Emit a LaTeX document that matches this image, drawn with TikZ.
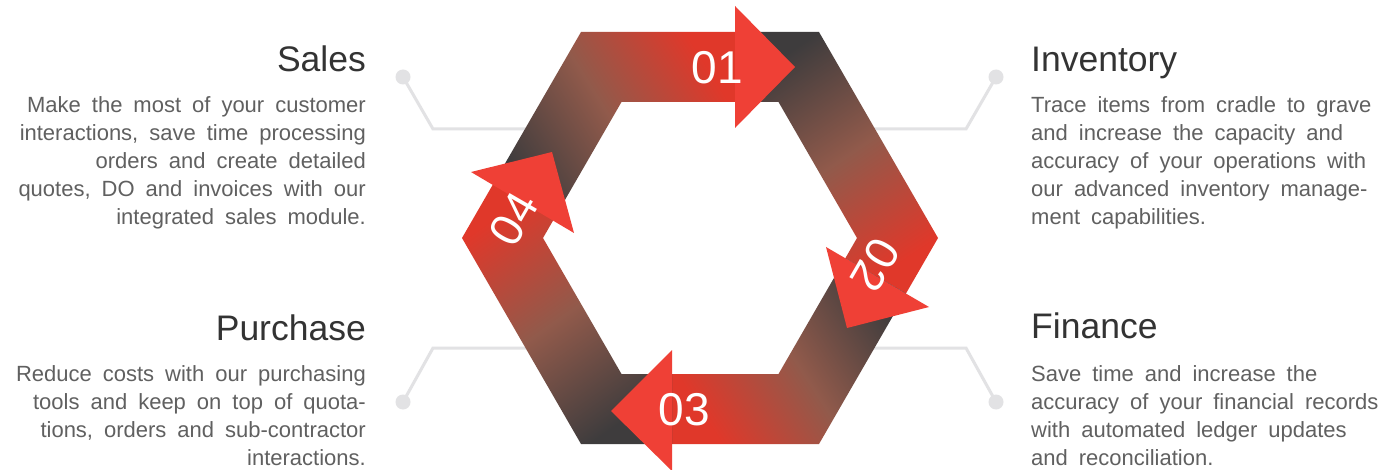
\documentclass[tikz,border=0pt]{standalone}
\usepackage{fontspec}
\setmainfont{Liberation Sans}
\newfontfamily\headfont{Liberation Sans}
\newfontfamily\blurbfont[WordSpace=1.8]{Liberation Sans}
\definecolor{ringdark}{RGB}{62,60,61}
\definecolor{ringmid}{RGB}{145,90,75}
\definecolor{ringred}{RGB}{224,56,42}
\definecolor{arrowred}{RGB}{239,64,54}
\definecolor{leadgray}{RGB}{226,226,228}
\definecolor{headgray}{RGB}{51,51,51}
\definecolor{blurbgray}{RGB}{96,96,96}
\tikzset{head/.style={inner sep=0pt,text=headgray,font=\headfont\fontsize{35.5}{40}\selectfont},
  blurb/.style={inner sep=0pt,text=blurbgray,font=\blurbfont\fontsize{22}{28}\selectfont},
  lead/.style={draw=leadgray,line width=3pt},
  dot/.style={circle,fill=leadgray,inner sep=0pt,minimum size=15pt},
  num/.style={inner sep=0pt,text=white,font=\fontsize{46}{50}\selectfont},
  band/.style={top color=ringred,bottom color=ringdark,middle color=ringmid}}
\begin{document}
\begin{tikzpicture}[x=1pt, y=-1pt]
\path[use as bounding box, fill=white] (0,0) rectangle (1399,470);
\node[dot] (salesdot) at (403,77) {};
\node[dot] (invdot) at (996,77) {};
\node[dot] (purchdot) at (403,402) {};
\node[dot] (findot) at (996,402) {};
\coordinate (salesbend) at (433,129);
\coordinate (invbend) at (966,129);
\coordinate (purchbend) at (433,348);
\coordinate (finbend) at (966,348);
\coordinate (salesend) at (570,129);
\coordinate (invend) at (830,129);
\coordinate (purchend) at (570,348);
\coordinate (finend) at (830,348);
\draw[lead] (salesdot.center) -- (salesbend) -- (salesend);
\draw[lead] (invdot.center) -- (invbend) -- (invend);
\draw[lead] (purchdot.center) -- (purchbend) -- (purchend);
\draw[lead] (findot.center) -- (finbend) -- (finend);
\shade[band, shading angle=-58] (494,182.6) -- (581,32) -- (735,32) -- (735,102)
  -- (621.5,102) -- (554.7,217.7) -- cycle;
\shade[band, shading angle=-146] (735,32) -- (819,32) -- (938,238) -- (906,293.4)
  -- (845.3,258.3) -- (857,238) -- (778.5,102) -- (735,102) -- cycle;
\shade[band, shading angle=123] (906,293.4) -- (819,444) -- (672,444) -- (672,374)
  -- (778.5,374) -- (845.3,258.3) -- cycle;
\shade[band, shading angle=35] (672,444) -- (581,444) -- (462,238) -- (494,182.6)
  -- (554.7,217.7) -- (543,238) -- (621.5,374) -- (672,374) -- cycle;
\fill[arrowred] (735,6) -- (735,128) -- (795,67) -- cycle;
\fill[arrowred] (826,247) -- (929,307) -- (847,328) -- cycle;
\fill[arrowred] (672,350) -- (672,471) -- (611,411) -- cycle;
\fill[arrowred] (471,172) -- (574,233) -- (552,152) -- cycle;
\node[num] (one) at (717,68) {01};
\node[num, rotate=-120] (two) at (875,265) {02};
\node[num] (three) at (684,410) {03};
\node[num, rotate=60] (four) at (514,219) {04};
\node[head, anchor=base east] (sales) at (366,72) {Sales};
\node[blurb, anchor=north east, align=right] (salestext) at (366,96)
  {Make the most of your customer\\interactions, save time processing\\orders and create detailed\\quotes, DO and invoices with our\\integrated sales module.};
\node[head, anchor=base west] (inventory) at (1031,72) {Inventory};
\node[blurb, anchor=north west, align=left] (inventorytext) at (1031,96)
  {Trace items from cradle to grave\\and increase the capacity and\\accuracy of your operations with\\our advanced inventory manage-\\ment capabilities.};
\node[head, anchor=base east] (purchase) at (366,340) {Purchase};
\node[blurb, anchor=north east, align=right] (purchasetext) at (366,365)
  {Reduce costs with our purchasing\\tools and keep on top of quota-\\tions, orders and sub-contractor\\interactions.};
\node[head, anchor=base west] (finance) at (1031,338) {Finance};
\node[blurb, anchor=north west, align=left] (financetext) at (1031,365)
  {Save time and increase the\\accuracy of your financial records\\with automated ledger updates\\and reconciliation.};
\end{tikzpicture}
\end{document}
